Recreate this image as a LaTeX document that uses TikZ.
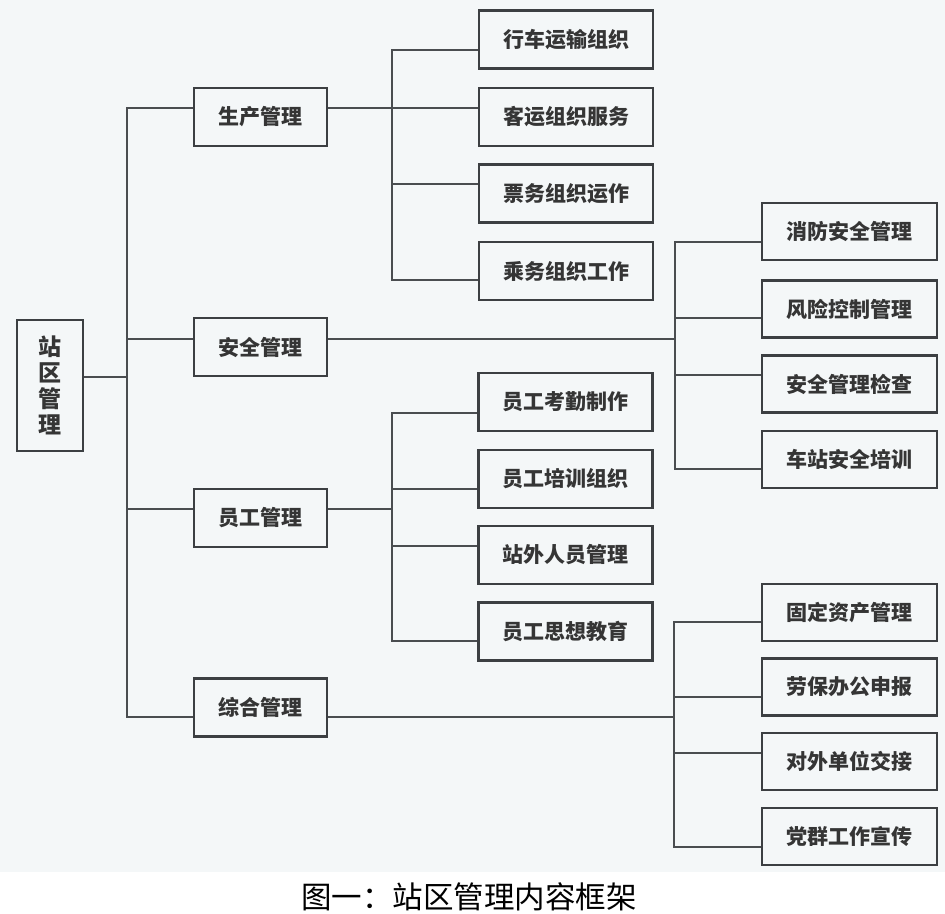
\documentclass[tikz,border=0pt]{standalone}
\usepackage{fontspec}
\newfontfamily\cjk{Noto Sans CJK SC}
\definecolor{bgc}{HTML}{F4F7F8}
\definecolor{linec}{HTML}{4A4D50}
\definecolor{boxc}{HTML}{3C3F42}
\definecolor{txtc}{HTML}{353535}
\tikzset{
  box/.style={draw=boxc, line width=2.6pt, inner sep=0pt, text=txtc,
    font=\cjk\bfseries\fontsize{21}{21}\selectfont},
  lvtwo/.style={box, minimum width=133pt, minimum height=58pt},
  lvthree/.style={box, minimum width=174pt, minimum height=58pt},
  lvfour/.style={box, minimum width=175pt, minimum height=57pt},
  conn/.style={draw=linec, line width=2.4pt}
}
\begin{document}
\begin{tikzpicture}[x=1pt,y=-1pt]
\fill[white] (0,0) rectangle (945,913);
\fill[bgc] (0,0) rectangle (945,872);
\useasboundingbox (0,0) rectangle (945,913);

% root
\node[box, minimum width=66pt, minimum height=131pt, align=center,
  font=\cjk\bfseries\fontsize{23}{26}\selectfont] (root) at (50,385.5) {站\\区\\管\\理};

% level 2
\node[lvtwo] (a) at (260.5,117) {生产管理};
\node[lvtwo] (b) at (260.5,347) {安全管理};
\node[lvtwo] (c) at (260.5,518) {员工管理};
\node[lvtwo] (d) at (260.5,707.5) {综合管理};

% group a
\node[lvthree] (a1) at (566,39.5) {行车运输组织};
\node[lvthree] (a2) at (566,117) {客运组织服务};
\node[lvthree] (a3) at (566,193.5) {票务组织运作};
\node[lvthree] (a4) at (566,271) {乘务组织工作};

% group b
\node[lvfour] (b1) at (849.5,231.5) {消防安全管理};
\node[lvfour] (b2) at (849.5,309) {风险控制管理};
\node[lvfour] (b3) at (849.5,384) {安全管理检查};
\node[lvfour] (b4) at (849.5,459.5) {车站安全培训};

% group c
\node[lvthree] (c1) at (565.5,402) {员工考勤制作};
\node[lvthree] (c2) at (565.5,479) {员工培训组织};
\node[lvthree] (c3) at (565.5,555) {站外人员管理};
\node[lvthree] (c4) at (565.5,631.5) {员工思想教育};

% group d
\node[lvfour] (d1) at (849.5,612.5) {固定资产管理};
\node[lvfour] (d2) at (849.5,687) {劳保办公申报};
\node[lvfour] (d3) at (849.5,761.5) {对外单位交接};
\node[lvfour] (d4) at (849.5,836.5) {党群工作宣传};

% caption
\node[font=\cjk\fontsize{30.5}{30.5}\selectfont, text=black] (cap) at (469,897) {图一：站区管理内容框架};

% trunk x positions
\coordinate (tm) at (127,0);
\coordinate (ta) at (392,0);
\coordinate (tb) at (675,0);
\coordinate (tc) at (392,0);
\coordinate (td) at (674,0);

% root to level 2
\coordinate (r0) at ([yshift=8.5pt]root.east);
\coordinate (pa) at ([yshift=9pt]a.west);
\coordinate (pb) at ([yshift=8pt]b.west);
\coordinate (pc) at ([yshift=9pt]c.west);
\coordinate (pd) at ([yshift=-9.5pt]d.west);
\draw[conn] (r0) -- (r0 -| tm);
\draw[conn] (pa) -- (pa -| tm) -- (pd -| tm) -- (pd);
\draw[conn] (pb) -- (pb -| tm);
\draw[conn] (pc) -- (pc -| tm);

% group a
\coordinate (qa) at ([yshift=9pt]a.east);
\coordinate (qa1) at ([yshift=-10.5pt]a1.west);
\coordinate (qa2) at ([yshift=9pt]a2.west);
\coordinate (qa3) at ([yshift=9.5pt]a3.west);
\coordinate (qa4) at ([yshift=-9pt]a4.west);
\draw[conn] (qa) -- (qa2);
\draw[conn] (qa1) -- (qa1 -| ta) -- (qa4 -| ta) -- (qa4);
\draw[conn] (qa3) -- (qa3 -| ta);

% group b
\coordinate (qb) at ([yshift=8pt]b.east);
\coordinate (qb1) at ([yshift=-10.5pt]b1.west);
\coordinate (qb2) at ([yshift=-9pt]b2.west);
\coordinate (qb3) at ([yshift=9pt]b3.west);
\coordinate (qb4) at ([yshift=-9.5pt]b4.west);
\draw[conn] (qb) -- (qb -| tb);
\draw[conn] (qb1) -- (qb1 -| tb) -- (qb4 -| tb) -- (qb4);
\draw[conn] (qb2) -- (qb2 -| tb);
\draw[conn] (qb3) -- (qb3 -| tb);

% group c
\coordinate (qc) at ([yshift=9pt]c.east);
\coordinate (qc1) at ([yshift=-11pt]c1.west);
\coordinate (qc2) at ([yshift=-10pt]c2.west);
\coordinate (qc3) at ([yshift=9pt]c3.west);
\coordinate (qc4) at ([yshift=-9.5pt]c4.west);
\draw[conn] (qc) -- (qc -| tc);
\draw[conn] (qc1) -- (qc1 -| tc) -- (qc4 -| tc) -- (qc4);
\draw[conn] (qc2) -- (qc2 -| tc);
\draw[conn] (qc3) -- (qc3 -| tc);

% group d
\coordinate (qd) at ([yshift=-9.5pt]d.east);
\coordinate (qd1) at ([yshift=-9.5pt]d1.west);
\coordinate (qd2) at ([yshift=-10pt]d2.west);
\coordinate (qd3) at ([yshift=8.5pt]d3.west);
\coordinate (qd4) at ([yshift=-10.5pt]d4.west);
\draw[conn] (qd) -- (qd -| td);
\draw[conn] (qd1) -- (qd1 -| td) -- (qd4 -| td) -- (qd4);
\draw[conn] (qd2) -- (qd2 -| td);
\draw[conn] (qd3) -- (qd3 -| td);
\end{tikzpicture}
\end{document}
